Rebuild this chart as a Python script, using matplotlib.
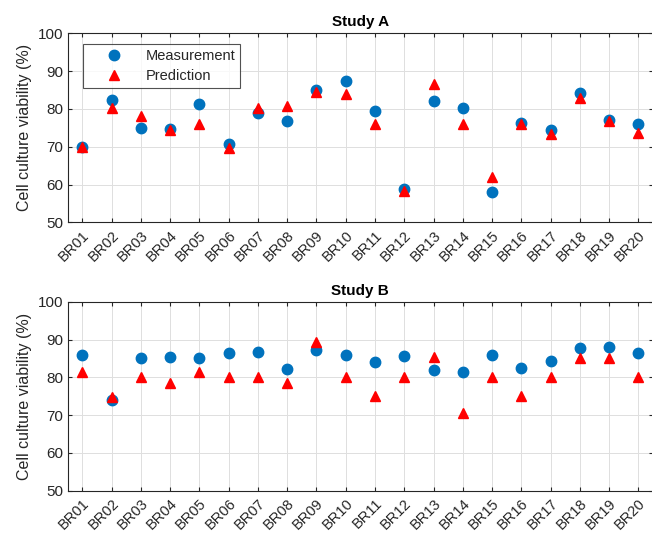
import matplotlib
matplotlib.use("Agg")
import matplotlib.pyplot as plt
import numpy as np

plt.rcParams['font.family'] = ['Liberation Sans', 'DejaVu Sans']

samples = [f"BR{i:02d}" for i in range(1, 21)]

study_a_measured = [69.8, 82.3, 75.0, 74.7, 81.2, 70.7, 79.0, 76.9, 84.9, 87.5,
                    79.4, 58.9, 82.0, 80.2, 58.0, 76.2, 74.3, 84.3, 77.1, 76.1]
study_a_predicted = [70.0, 80.3, 78.2, 74.5, 75.9, 69.6, 80.3, 80.8, 84.4, 83.9,
                     75.9, 58.4, 86.6, 75.9, 62.0, 75.9, 73.3, 83.0, 76.9, 73.5]

study_b_measured = [85.8, 74.1, 85.2, 85.4, 85.1, 86.4, 86.6, 82.3, 87.3, 85.9,
                    84.1, 85.7, 81.9, 81.4, 86.0, 82.4, 84.3, 87.8, 88.0, 86.3]
study_b_predicted = [81.3, 74.8, 80.0, 78.6, 81.3, 80.0, 80.0, 78.6, 89.3, 80.0,
                     75.0, 80.0, 85.3, 70.6, 80.0, 75.0, 80.0, 85.0, 85.0, 80.0]

titles = ["Study A", "Study B"]
y_ticks = [50, 60, 70, 80, 90, 100]

BLUE = "#0072BD"
RED = "#FF0000"
TXT = "#262626"

fig = plt.figure(figsize=(6.52, 5.36), dpi=100)
ax_w = (653 - 67.7) / 652
ax_h = 0.3526
axes = [fig.add_axes([67.7 / 652, 1 - 222.3 / 536, ax_w, ax_h]),
        fig.add_axes([67.7 / 652, 1 - 490.7 / 536, ax_w, ax_h])]

x = np.arange(1, len(samples) + 1)
data = [(study_a_measured, study_a_predicted), (study_b_measured, study_b_predicted)]

for ax, title, (meas, pred) in zip(axes, titles, data):
    ax.plot(x, meas, linestyle="none", marker="o", markersize=7.5,
            color=BLUE, label="Measurement", zorder=3)
    ax.plot(x, pred, linestyle="none", marker="^", markersize=7.5,
            color=RED, label="Prediction", zorder=4)
    ax.set_xlim(0.5, 20.5)
    ax.set_ylim(50, 100)
    ax.set_xticks(x)
    ax.set_xticklabels(samples, rotation=45, ha="right", va="top",
                       rotation_mode="anchor", fontsize=10.5, color=TXT)
    ax.set_yticks(y_ticks)
    ax.set_yticklabels([str(v) for v in y_ticks], fontsize=11, color=TXT)
    ax.tick_params(direction="in", length=3, width=0.8, colors="#262626",
                   top=True, right=True, pad=3)
    ax.tick_params(axis="x", pad=4)
    ax.grid(True, color="#DFDFDF", linewidth=0.7)
    ax.set_axisbelow(True)
    for s in ax.spines.values():
        s.set_color("#262626")
        s.set_linewidth(0.8)
    ax.set_title(title, fontsize=11, fontweight="bold", color="#000000", pad=5)
    ax.set_ylabel("Cell culture viability (%)", fontsize=11.5, color=TXT, labelpad=4)

leg = axes[0].legend(loc="upper left", bbox_to_anchor=(0.0267, 0.942),
                     borderaxespad=0.0, fontsize=10.5, frameon=True, fancybox=False,
                     edgecolor="#262626", borderpad=0.35, handletextpad=0.36,
                     handlelength=3.56, labelspacing=0.38)
leg.get_frame().set_linewidth(0.8)
for t in leg.get_texts():
    t.set_color(TXT)

fig.savefig("out.png", dpi=100, facecolor="white")
